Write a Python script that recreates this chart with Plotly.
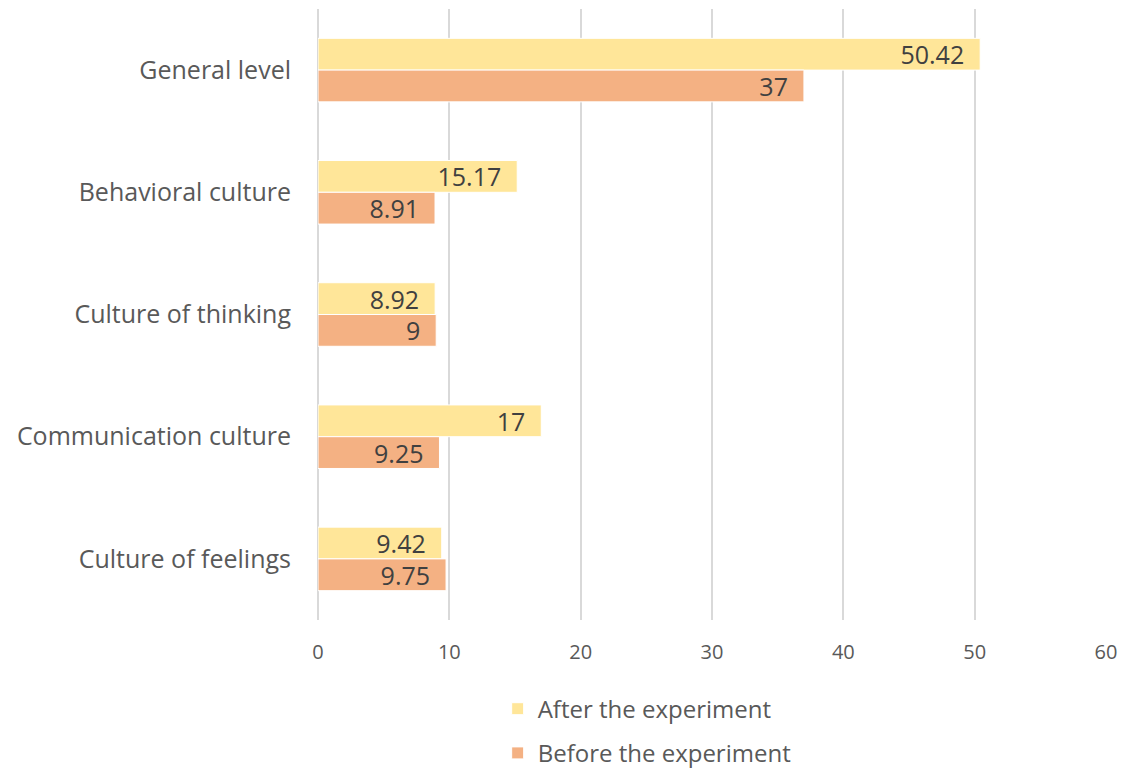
import plotly.graph_objects as go

categories = ["General level", "Behavioral culture", "Culture of thinking",
              "Communication culture", "Culture of feelings"]
after_vals = [50.42, 15.17, 8.92, 17, 9.42]
before_vals = [37, 8.91, 9, 9.25, 9.75]
after_labels = ["50.42", "15.17", "8.92", "17", "9.42"]
before_labels = ["37", "8.91", "9", "9.25", "9.75"]
x_ticks = [0, 10, 20, 30, 40, 50, 60]

FONT = "Open Sans"
pad = "\u00a0\u00a0"

fig = go.Figure()
fig.add_trace(go.Bar(
    y=categories, x=after_vals, orientation="h", name="After the experiment",
    legendgroup="a",
    marker=dict(color="#FFE699", line=dict(color="white", width=1)),
    text=[t + pad for t in after_labels], textposition="inside", textangle=0,
    insidetextanchor="end", constraintext="none",
    textfont=dict(family=FONT, size=25, color="#404040"),
))
fig.add_trace(go.Bar(
    y=categories, x=before_vals, orientation="h", name="Before the experiment",
    legendgroup="b",
    marker=dict(color="#F4B183", line=dict(color="white", width=1)),
    text=[t + pad for t in before_labels], textposition="inside", textangle=0,
    insidetextanchor="end", constraintext="none",
    textfont=dict(family=FONT, size=25, color="#404040"),
))

fig.update_layout(
    width=1121, height=773,
    margin=dict(l=318, r=15, t=9, b=153, autoexpand=False),
    barmode="group", bargap=0.48, bargroupgap=0,
    plot_bgcolor="white", paper_bgcolor="white",
    font=dict(family=FONT, color="#595959"),
    legend=dict(
        orientation="v", x=0.228, xanchor="left", y=-0.109, yanchor="top",
        font=dict(size=24, color="#595959"), traceorder="grouped",
        itemwidth=30, tracegroupgap=10,
    ),
    showlegend=True,
)
fig.update_xaxes(
    range=[0, 60], tickvals=x_ticks, showgrid=True, gridcolor="#D9D9D9",
    gridwidth=2, zeroline=True, zerolinecolor="#D9D9D9", zerolinewidth=2,
    showline=False, tickfont=dict(size=20, color="#595959"),
    ticks="", ticklabelstandoff=18, fixedrange=True, automargin=False,
)
fig.update_yaxes(
    categoryorder="array", categoryarray=categories, autorange="reversed",
    showgrid=False, zeroline=False, showline=False, ticks="",
    tickfont=dict(size=25, color="#595959"), ticklabelstandoff=26,
    automargin=False,
)

fig.write_html("out.html")
